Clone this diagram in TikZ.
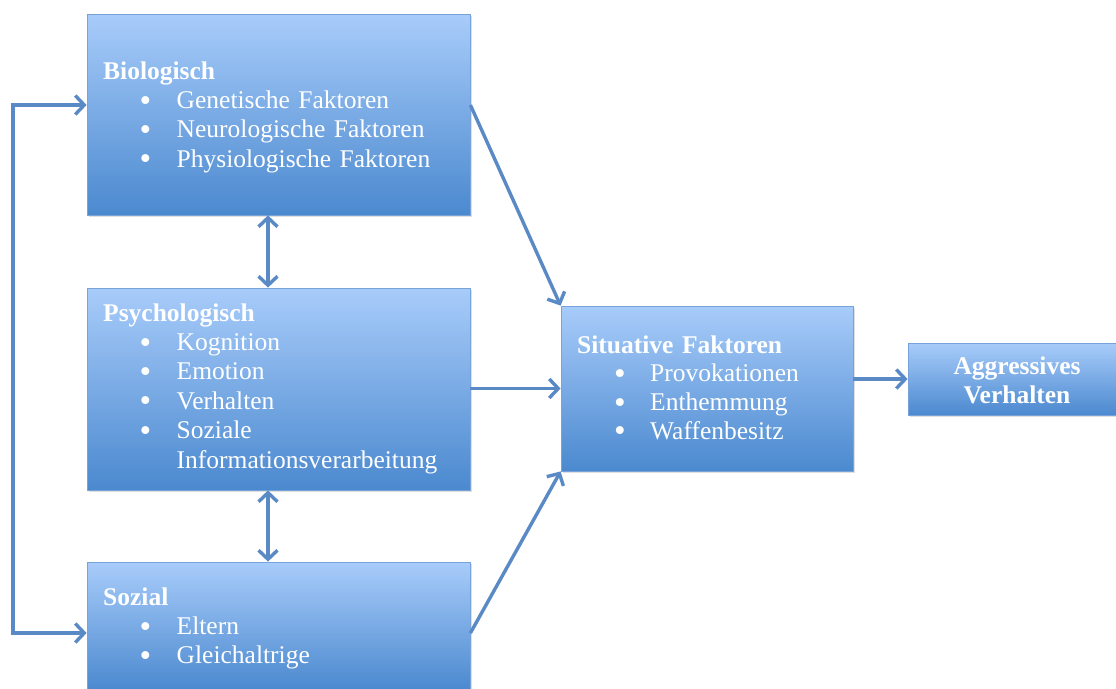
\documentclass[tikz,border=0pt]{standalone}
\usepackage{fontspec}
\setmainfont{Liberation Serif}
\usetikzlibrary{arrows.meta,shadows}
\definecolor{boxtop}{HTML}{A8CCFA}
\definecolor{boxbot}{HTML}{4B89CF}
\definecolor{boxedge}{HTML}{78A3DA}
\definecolor{arr}{HTML}{5A8AC6}
\newcommand\blt[2]{\hspace*{#1}\makebox[#2][l]{\smash{\raisebox{-2.6pt}{\scalebox{1.3}{\textbullet}}}}}
\tikzset{
  box/.style={draw=boxedge, line width=0.8pt, top color=boxtop, bottom color=boxbot,
    rectangle, inner sep=0pt, drop shadow={opacity=0.25, shadow xshift=1.5pt, shadow yshift=-2pt}},
  txt/.style={text=white, inner sep=0pt, anchor=base west, text width=380pt, align=left,
    font=\fontsize{25.5}{29.4}\selectfont},
  tip/.tip={Straight Barb[length=9pt,width=19pt,line width=3.4pt]},
  conn/.style={draw=arr, line width=3.4pt, -tip},
  dconn/.style={draw=arr, line width=3.4pt, tip-tip}
}
\begin{document}
\begin{tikzpicture}[x=1pt,y=-1pt]
\useasboundingbox[fill=white] (0,0) rectangle (1116,688);
% boxes
\node[box, minimum width=383pt, minimum height=201pt] (bio) at (278.5,114.5) {};
\node[box, minimum width=383pt, minimum height=202pt] (psy) at (278.5,389) {};
\node[box, minimum width=383pt, minimum height=128pt] (soz) at (278.5,626) {};
\node[box, minimum width=292pt, minimum height=165pt] (sit) at (707,388.5) {};
\node[box, minimum width=218pt, minimum height=72pt] (agg) at (1017,379) {};
% texts
\node[txt] (biot) at (103,79) {\textbf{Biologisch}\\
\blt{36.5pt}{37pt}Genetische Faktoren\\
\blt{36.5pt}{37pt}Neurologische Faktoren\\
\blt{36.5pt}{37pt}Physiologische Faktoren};
\node[txt] (psyt) at (103,321) {\textbf{Psychologisch}\\
\blt{36.5pt}{37pt}Kognition\\
\blt{36.5pt}{37pt}Emotion\\
\blt{36.5pt}{37pt}Verhalten\\
\blt{36.5pt}{37pt}Soziale\\
\hspace*{73.5pt}Informationsverarbeitung};
\node[txt] (sozt) at (103,605) {\textbf{Sozial}\\
\blt{36.5pt}{37pt}Eltern\\
\blt{36.5pt}{37pt}Gleichaltrige};
\node[txt, font=\fontsize{25.5}{28.7}\selectfont] (sitt) at (577,353) {\textbf{Situative Faktoren}\\
\blt{37pt}{36pt}Provokationen\\
\blt{37pt}{36pt}Enthemmung\\
\blt{37pt}{36pt}Waffenbesitz};
\node[txt, anchor=base, text width=200pt, align=center, font=\fontsize{25.5}{29}\selectfont\bfseries] (aggt) at (1017,374) {Aggressives\\Verhalten};
% connectors
\coordinate (l1) at (13,105);
\coordinate (l2) at (13,633);
\draw[dconn] (bio.west |- l1) -- (l1) -- (l2) -- (soz.west |- l2);
\draw[dconn] (bio.south) ++(-10.5,0) coordinate (b1) -- (b1 |- psy.north);
\draw[dconn] (psy.south) ++(-10.5,0) coordinate (b2) -- (b2 |- soz.north);
\draw[conn] (bio.east |- l1) -- (sit.north west);
\draw[conn] (psy.east |- sit.west) -- (sit.west);
\draw[conn] (soz.east |- l2) -- (sit.south west);
\draw[conn] (sit.east |- agg.west) -- (agg.west);
\end{tikzpicture}
\end{document}
